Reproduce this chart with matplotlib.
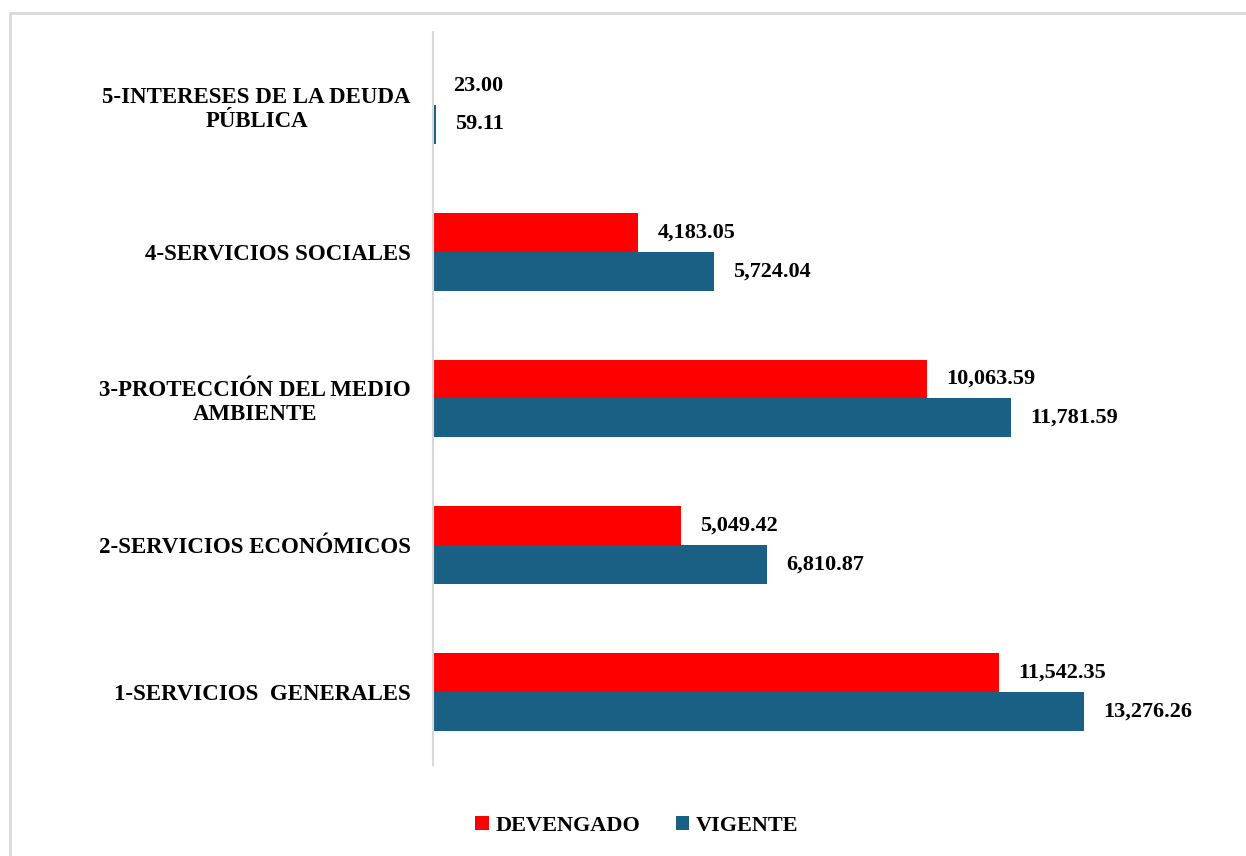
import numpy as np
import matplotlib
matplotlib.use('Agg')
import matplotlib.pyplot as plt
from matplotlib.patches import Rectangle

# Data (bottom to top as drawn)
categories = ['1-SERVICIOS  GENERALES', '2-SERVICIOS ECONÓMICOS',
              '3-PROTECCIÓN DEL MEDIO\nAMBIENTE', '4-SERVICIOS SOCIALES',
              '5-INTERESES DE LA DEUDA\nPÚBLICA']
devengado = [11542.35, 5049.42, 10063.59, 4183.05, 23.00]
vigente = [13276.26, 6810.87, 11781.59, 5724.04, 59.11]

plt.rcParams['font.family'] = ['Liberation Serif', 'DejaVu Serif']
plt.rcParams['font.weight'] = 'bold'

fig = plt.figure(figsize=(12.46, 8.56), dpi=100)
ax = fig.add_axes([0.3475, 0.106, 0.635, 0.857])

# light grey frame around the chart
fig.patches.append(Rectangle((10 / 1246, -0.1), 1.2, 1 - 13 / 856 + 0.1,
                             transform=fig.transFigure, fill=False,
                             edgecolor='#d9d9d9', linewidth=2))

y = np.arange(len(categories))
h = 0.265
b1 = ax.barh(y + h / 2, devengado, height=h, color='#ff0000', label='DEVENGADO')
b2 = ax.barh(y - h / 2, vigente, height=h, color='#1a5f84', label='VIGENTE')

for bars, vals in ((b1, devengado), (b2, vigente)):
    for bar, v in zip(bars, vals):
        ax.annotate(f'{v:,.2f}', (bar.get_width(), bar.get_y() + bar.get_height() / 2),
                    xytext=(14, 0), textcoords='offset points', va='center',
                    ha='left', fontsize=16, fontweight='bold')

ax.set_yticks(y)
ax.set_yticklabels(categories, fontsize=16.5, fontweight='bold',
                   ha='right', multialignment='center')
ax.tick_params(axis='y', length=0, pad=16)
ax.set_xticks([])
ax.set_xlim(0, 16130)
ax.set_ylim(-0.5, 4.5)
for s in ['top', 'right', 'bottom']:
    ax.spines[s].set_visible(False)
ax.spines['left'].set_color('#d9d9d9')
ax.spines['left'].set_linewidth(1.5)

fig.legend(handles=[b1, b2], loc='center', bbox_to_anchor=(0.511, 0.035), ncol=2,
           frameon=False, prop={'size': 16, 'weight': 'bold'},
           handlelength=0.6, handleheight=0.6, handletextpad=0.3, columnspacing=1.6)

fig.savefig('out.png', dpi=100)
